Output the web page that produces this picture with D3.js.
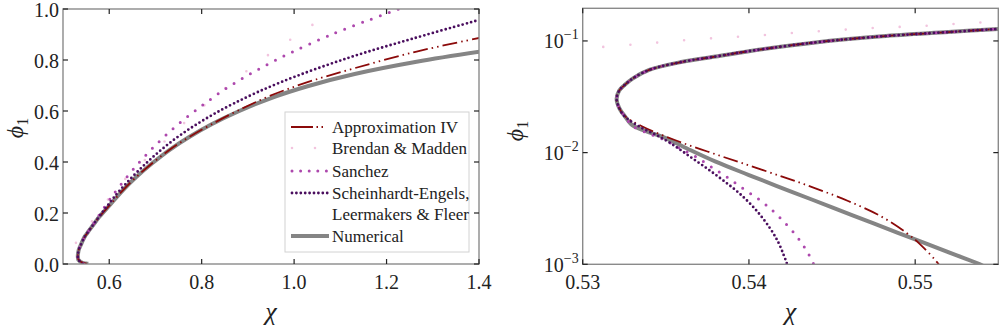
<!DOCTYPE html>
<html>
<head>
<meta charset="utf-8">
<script src="https://cdn.jsdelivr.net/npm/d3@7"></script>
<style>
  body { margin: 0; background: #fff; }
  svg text { font-family: "Liberation Serif", "DejaVu Serif", "Noto Serif", Tinos, "Nimbus Roman", FreeSerif, "Times New Roman", serif; fill: #222; }
</style>
</head>
<body>
<div id="chart-area"></div>
<script>
// numerical binodal (lower branch -> critical point -> upper branch)
var numChi = [0.5548, 0.5539, 0.5525, 0.550, 0.5475, 0.545, 0.5425, 0.540, 0.538, 0.5365, 0.535, 0.534, 0.533, 0.5325, 0.5322, 0.53204,
  0.5322, 0.5325, 0.533, 0.534, 0.536, 0.538, 0.540, 0.544, 0.548, 0.552, 0.555, 0.565, 0.5786, 0.603, 0.63, 0.659, 0.693, 0.730, 0.773, 0.8215, 0.879, 0.946, 1.029, 1.131, 1.265, 1.407];
var numPhi = [0.00085, 0.001, 0.0012, 0.00167, 0.00232, 0.00324, 0.0045, 0.0063, 0.0083, 0.0105, 0.0135, 0.0152, 0.0175, 0.0215, 0.025, 0.0303,
  0.036, 0.040, 0.046, 0.055, 0.065, 0.0725, 0.081, 0.097, 0.110, 0.120, 0.128, 0.152, 0.185, 0.235, 0.29, 0.342, 0.395, 0.447, 0.498, 0.548, 0.598, 0.648, 0.697, 0.745, 0.793, 0.834];

var apxChi = [0.5518, 0.5513, 0.5503, 0.5495, 0.548, 0.546, 0.544, 0.542, 0.5395, 0.5375, 0.5355, 0.5335, 0.5325, 0.5322, 0.53204,
  0.5322, 0.5325, 0.533, 0.534, 0.536, 0.538, 0.540, 0.544, 0.548, 0.552, 0.555, 0.565, 0.5786, 0.603, 0.63, 0.659, 0.693, 0.730, 0.773, 0.8215, 0.879, 0.946, 1.029, 1.131, 1.265, 1.407];
var apxPhi = [0.00083, 0.00105, 0.00151, 0.0019, 0.00266, 0.00367, 0.00479, 0.0061, 0.00813, 0.01023, 0.01303, 0.01738, 0.0215, 0.025, 0.0303,
  0.036, 0.040, 0.046, 0.055, 0.065, 0.0725, 0.081, 0.097, 0.110, 0.120, 0.128, 0.152, 0.185, 0.235, 0.29, 0.342, 0.395, 0.447, 0.498, 0.548, 0.602, 0.658, 0.713, 0.768, 0.833, 0.889];

var bmChi = [0.528, 0.53008, 0.53351, 0.53695, 0.5404, 0.54383, 0.54728, 0.55072, 0.55415, 0.573, 0.62, 0.699, 0.743, 0.782, 0.8835, 0.9305, 0.983, 1.033, 1.0857];
var bmPhi = [0.083, 0.0860, 0.0940, 0.1036, 0.1116, 0.1211, 0.130, 0.137, 0.147, 0.192, 0.305, 0.445, 0.52, 0.585, 0.737, 0.802, 0.869, 0.93, 0.99];

var sanChi = [0.5441, 0.5439, 0.5437, 0.5435, 0.5432, 0.5428, 0.5422, 0.5415, 0.5407, 0.5397, 0.5387, 0.5377, 0.5368, 0.5359, 0.535, 0.534, 0.533, 0.5325, 0.5322, 0.53204,
  0.5322, 0.5325, 0.533, 0.534, 0.536, 0.538, 0.540, 0.544, 0.548, 0.552, 0.555, 0.565, 0.58, 0.6, 0.616, 0.658, 0.703, 0.75, 0.80, 0.85, 0.9, 0.95, 1.0, 1.064, 1.1, 1.165, 1.227];
var sanPhi = [0.00085, 0.001, 0.00115, 0.0013, 0.00153, 0.00184, 0.00232, 0.00295, 0.00372, 0.0047, 0.0060, 0.0075, 0.0092, 0.0108, 0.0128, 0.0148, 0.0173, 0.0215, 0.025, 0.0303,
  0.036, 0.040, 0.046, 0.055, 0.065, 0.0725, 0.081, 0.097, 0.110, 0.120, 0.128, 0.155, 0.197, 0.25, 0.29, 0.384, 0.471, 0.549, 0.62, 0.685, 0.74, 0.79, 0.835, 0.887, 0.914, 0.959, 1.0];

var schChi = [0.5425, 0.5423, 0.5421, 0.54176, 0.54126, 0.54046, 0.53946, 0.53846, 0.53746, 0.53645, 0.53545, 0.5345, 0.5335, 0.5325, 0.5322, 0.53204,
  0.5322, 0.5325, 0.533, 0.534, 0.536, 0.538, 0.540, 0.544, 0.548, 0.552, 0.555, 0.565, 0.58, 0.595, 0.6235, 0.681, 0.739, 0.8, 0.87, 0.97, 1.115, 1.259, 1.4];
var schPhi = [0.00079, 0.001, 0.0012, 0.00158, 0.00211, 0.00302, 0.00427, 0.00562, 0.00724, 0.0092, 0.0117, 0.0142, 0.0168, 0.0213, 0.025, 0.0303,
  0.036, 0.040, 0.046, 0.055, 0.065, 0.0725, 0.081, 0.097, 0.110, 0.120, 0.128, 0.153, 0.19, 0.226, 0.29, 0.397, 0.486, 0.56, 0.63, 0.712, 0.807, 0.885, 0.957];

var leftXTicks = [0.6, 0.8, 1.0, 1.2, 1.4];
var leftYTicks = [0, 0.2, 0.4, 0.6, 0.8, 1.0];
var rightXTicks = [0.53, 0.54, 0.55];
var rightYTicks = [1e-3, 1e-2, 1e-1];

var legendLabels = ["Approximation IV", "Brendan & Madden", "Sanchez", "Scheinhardt-Engels,", "Numerical"];

function zip(xs, ys) { return xs.map((x, i) => [x, ys[i]]); }

var series = [
  { key: "num", pts: zip(numChi, numPhi), color: "#858585", width: 4, dash: null, cap: "butt" },
  { key: "apx", pts: zip(apxChi, apxPhi), color: "#8b0a0a", width: 1.8, dash: "15,4,1.5,4,1.5,4", cap: "butt",
    legendDash: "22,3.5,1.5,3.5,1.5,8" },
  { key: "bm", pts: zip(bmChi, bmPhi), color: "#f2c4de", width: 2.6, dash: "0,27", cap: "round", legendDash: "0,23" },
  { key: "san", pts: zip(sanChi, sanPhi), color: "#ad48ad", width: 3, dash: "0,9.5", cap: "round", legendDash: "0,8.6" },
  { key: "sch", pts: zip(schChi, schPhi), color: "#4a0e5e", width: 2.8, dash: "0,4.4", cap: "round" }
];

var svg = d3.select("#chart-area").append("svg")
  .attr("width", 1000).attr("height", 327);

var frameColor = "#8a8a8a";

function panel(id, x, y, xTicks, yTicks, xFmt, logY) {
  var g = svg.append("g");
  var x0 = x.range()[0], x1 = x.range()[1];
  var y0 = y.range()[0], y1 = y.range()[1];

  g.append("clipPath").attr("id", id)
    .append("rect").attr("x", x0).attr("y", y1).attr("width", x1 - x0).attr("height", y0 - y1);

  var line = d3.line()
    .x(d => x(d[0])).y(d => y(d[1]))
    .curve(d3.curveCatmullRom.alpha(0.5));

  var lines = g.append("g").attr("clip-path", "url(#" + id + ")");
  series.forEach(s => {
    lines.append("path")
      .attr("d", line(s.pts))
      .attr("fill", "none")
      .attr("stroke", s.color)
      .attr("stroke-width", s.width)
      .attr("stroke-linecap", s.cap)
      .attr("stroke-dasharray", s.dash);
  });

  g.append("rect")
    .attr("x", x0).attr("y", y1).attr("width", x1 - x0).attr("height", y0 - y1)
    .attr("fill", "none").attr("stroke", frameColor).attr("stroke-width", 1.4);

  var tl = 5;
  xTicks.forEach(t => {
    g.append("line").attr("x1", x(t)).attr("x2", x(t)).attr("y1", y0).attr("y2", y0 - tl)
      .attr("stroke", "#222").attr("stroke-width", 1.2);
    g.append("line").attr("x1", x(t)).attr("x2", x(t)).attr("y1", y1).attr("y2", y1 + tl)
      .attr("stroke", "#222").attr("stroke-width", 1.2);
    g.append("text").attr("x", x(t)).attr("y", y0 + 25)
      .attr("text-anchor", "middle").attr("font-size", 20).text(xFmt(t));
  });
  yTicks.forEach(t => {
    g.append("line").attr("x1", x0).attr("x2", x0 + tl).attr("y1", y(t)).attr("y2", y(t))
      .attr("stroke", "#222").attr("stroke-width", 1.2);
    g.append("line").attr("x1", x1).attr("x2", x1 - tl).attr("y1", y(t)).attr("y2", y(t))
      .attr("stroke", "#222").attr("stroke-width", 1.2);
    if (logY) {
      var e = Math.round(Math.log10(t));
      var tx = g.append("text").attr("x", x0 - 4).attr("y", y(t) + 7.5)
        .attr("text-anchor", "end").attr("font-size", 20);
      tx.append("tspan").text("10");
      tx.append("tspan").attr("font-size", 14).attr("dy", -9).text("\u2212" + Math.abs(e));
    } else {
      g.append("text").attr("x", x0 - 4).attr("y", y(t) + 7.5)
        .attr("text-anchor", "end").attr("font-size", 20).text(d3.format(".1f")(t));
    }
  });

  var xm = (x0 + x1) / 2;
  g.append("text").attr("x", xm).attr("y", 320)
    .attr("text-anchor", "middle").attr("font-size", 26).attr("font-style", "italic").text("\u03c7");
  return g;
}

var xL = d3.scaleLinear().domain([0.5, 1.4]).range([63, 479]);
var yL = d3.scaleLinear().domain([0, 1]).range([264, 9]);
var xR = d3.scaleLinear().domain([0.53, 0.555]).range([582.7, 998.3]);
var yR = d3.scaleLog().domain([1e-3, 0.196]).range([264.3, 8.3]);

panel("clipL", xL, yL, leftXTicks, leftYTicks, d3.format(".1f"), false);
panel("clipR", xR, yR, rightXTicks, rightYTicks, d3.format(".2f"), true);

function yLabel(cx, cy) {
  var t = svg.append("text")
    .attr("transform", "translate(" + cx + "," + cy + ") rotate(-90)")
    .attr("text-anchor", "middle").attr("font-size", 24);
  t.append("tspan").attr("font-style", "italic").text("\u03d5");
  t.append("tspan").attr("font-size", 16).attr("dy", 5).text("1");
}
yLabel(23, 128);
yLabel(523, 131);

// legend
var lg = svg.append("g");
lg.append("rect").attr("x", 285).attr("y", 112).attr("width", 184).attr("height", 140)
  .attr("fill", "#fff").attr("fill-opacity", 0.9).attr("stroke", "#d2d2d2").attr("stroke-width", 1);
var rowY = [127, 148, 171, 193, 236];
var order = ["apx", "bm", "san", "sch", "num"];
order.forEach((k, i) => {
  var s = series.find(d => d.key === k);
  var start = s.cap === "round" ? 292 : 291;
  lg.append("line").attr("x1", start).attr("x2", 329).attr("y1", rowY[i]).attr("y2", rowY[i])
    .attr("stroke", s.color).attr("stroke-width", s.width)
    .attr("stroke-linecap", s.cap).attr("stroke-dasharray", s.legendDash || s.dash);
  lg.append("text").attr("x", 332).attr("y", rowY[i] + 5.5).attr("font-size", 17).text(legendLabels[i]);
});
lg.append("text").attr("x", 332).attr("y", 214 + 5.5).attr("font-size", 17).text("Leermakers & Fleer");
</script>
</body>
</html>
